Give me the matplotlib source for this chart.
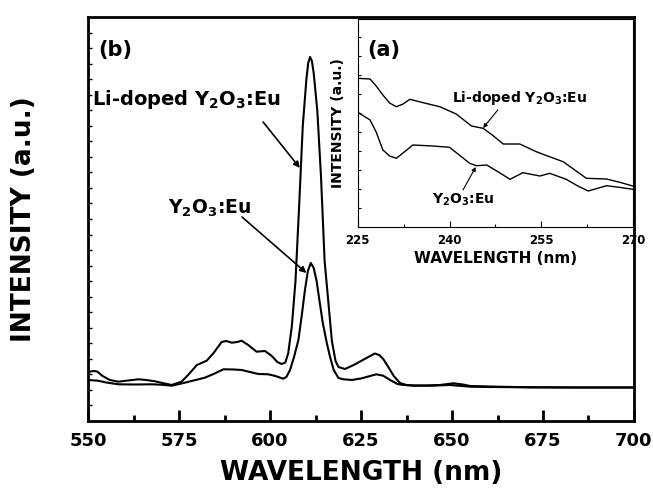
import matplotlib.pyplot as plt
import numpy as np

plt.rcParams['font.family'] = ['DejaVu Sans']
plt.rcParams['font.weight'] = 'bold'
plt.rcParams['mathtext.fontset'] = 'dejavusans'

# main spectrum (b), emission 550-700 nm, arbitrary intensity units
wl_li = [550, 551.5, 552.5, 554, 556, 558.3, 561, 563.8, 566, 568.4, 571, 573,
         575.7, 577.5, 579.9, 582.6, 584.5, 586.7, 588, 589.5, 591, 592.2, 594,
         596.3, 598.6, 600.5, 602, 603.2, 604.2, 605, 606, 607, 608, 609, 610,
         610.5, 611, 611.5, 612, 613, 614, 615, 616, 617, 618, 618.8, 620.6,
         623, 626, 628.8, 630, 631.1, 632.5, 634, 635.7, 637.5, 639.4, 643,
         646.7, 650.4, 653, 655, 660, 671.4, 685, 700]
int_li = [49, 50, 49.5, 45, 41, 39.3, 40.5, 41.7, 41, 39.7, 37.5, 36,
          39.3, 46, 56, 60.3, 68, 79, 80, 78.3, 79, 80.3, 76,
          69.3, 70, 65, 59, 57, 58.5, 67.7, 95, 140, 215, 295, 342,
          358, 364, 360, 348, 310, 245, 160, 120, 80, 60, 54, 52,
          56, 62, 67.5, 66, 62, 54, 45, 38, 36, 35.3, 35.5,
          36, 37.7, 36.5, 35, 34.5, 33.7, 33.5, 33.5]

wl_y = [550, 552.7, 555, 558.3, 563, 567.5, 570, 573, 576.6, 579, 582.1, 584.5,
        587.2, 590, 592.2, 594.5, 596.8, 599.5, 601.5, 603.6, 604.5, 605.5,
        606.6, 607.8, 608.7, 609.6, 610.4, 611.2, 612, 612.8, 613.6, 614.5,
        615.6, 616.5, 617.5, 618.8, 620.2, 622.5, 625, 628, 629.2, 631.1, 633,
        635, 636.6, 640, 643.9, 649.4, 655, 660, 671.4, 685, 700]
int_y = [41, 40.3, 38.5, 36.7, 36.5, 36.7, 36.3, 35.3, 38.3, 40.5, 43.3, 47,
         51.7, 51.5, 51, 49, 47, 46.7, 45, 42.3, 44, 51,
         64, 81, 105, 131, 150, 158, 153, 140, 120, 98,
         78, 64, 51, 43, 41.7, 41, 42.5, 45.5, 46.7, 45.3, 41,
         37, 36, 35.5, 35.3, 36, 34.3, 34, 33.7, 33.5, 33.5]

# inset (a), excitation 225-270 nm
wl_li_a = [225, 227, 228, 229.1, 230.2, 231.3, 232.4, 233.5, 235.7, 238.4,
           241.1, 243.6, 245.5, 247, 248.8, 251.5, 254.2, 256.5, 258.6, 260.5,
           262.4, 265.7, 268, 270]
int_li_a = [148.7, 148, 141, 132, 124, 120.3, 123, 127.7, 124.3, 120.3,
            113, 101, 98.7, 92, 83, 83, 75.3, 70, 65.3, 57,
            48.7, 48, 44.5, 41]

wl_y_a = [225, 227, 228, 229.1, 230.2, 231.3, 232.6, 234, 237.3, 240, 241.6,
          243.3, 244.4, 246.1, 248, 249.9, 252, 254.8, 256.4, 259.1, 261,
          262.7, 265.7, 268, 270]
int_y_a = [114.7, 107, 95, 77, 71, 68.7, 75, 82, 81, 79.7, 72,
           63.7, 61.3, 62, 55, 47.7, 54.3, 51, 53.7, 47.7, 41,
           36, 41.3, 39.5, 37.7]

fig = plt.figure(figsize=(6.53, 4.95), dpi=100)
ax = fig.add_axes([0.1348, 0.1495, 0.8361, 0.8162])

ax.plot(wl_li, int_li, color='black', lw=1.5)
ax.plot(wl_y, int_y, color='black', lw=1.5)

ax.set_xlim(550, 700)
ax.set_ylim(0, 404)
ax.set_xticks(np.arange(550, 701, 25))
ax.set_xticks(np.arange(550, 701, 12.5), minor=True)
ax.set_yticks(np.arange(1, 26) * 404 / 26)
ax.set_yticklabels([])
ax.tick_params(axis='x', which='major', direction='in', length=8, width=2,
               pad=8, labelsize=13)
ax.tick_params(axis='x', which='minor', direction='in', length=4.5, width=2)
ax.tick_params(axis='y', direction='in', length=3, width=1)
for s in ax.spines.values():
    s.set_linewidth(2)
ax.set_xlabel('WAVELENGTH (nm)', fontsize=19, fontweight='bold', labelpad=7)
ax.set_ylabel('INTENSITY (a.u.)', fontsize=19, fontweight='bold', labelpad=33)

ax.text(552.7, 371, '(b)', fontsize=15, fontweight='bold', va='center')
ax.text(551.1, 321, r'Li-doped Y$_\mathbf{2}$O$_\mathbf{3}$:Eu', fontsize=14,
        fontweight='bold', va='center')
ax.text(583.5, 213, r'Y$_\mathbf{2}$O$_\mathbf{3}$:Eu', fontsize=13.5,
        fontweight='bold', va='center', ha='center')
arrow = dict(arrowstyle='-|>', color='black', lw=1.2, mutation_scale=9,
             shrinkA=0, shrinkB=0)
ax.annotate('', xy=(608.2, 253), xytext=(598.1, 299), arrowprops=arrow)
ax.annotate('', xy=(610.0, 148), xytext=(592.3, 204), arrowprops=arrow)

ins = fig.add_axes([0.548, 0.5414, 0.4211, 0.4202])
ins.plot(wl_li_a, int_li_a, color='black', lw=1)
ins.plot(wl_y_a, int_y_a, color='black', lw=1)
ins.set_xlim(225, 270)
ins.set_ylim(0, 208)
ins.set_xticks([225, 240, 255, 270])
ins.set_xticks(np.arange(225, 271, 7.5), minor=True)
ins.set_yticks(np.arange(1, 11) * 19)
ins.set_yticklabels([])
ins.tick_params(axis='x', which='major', direction='in', length=4, width=0.8,
                pad=5, labelsize=8.5)
ins.tick_params(axis='x', which='minor', direction='in', length=2.5, width=0.8)
ins.tick_params(axis='y', direction='in', length=2.5, width=0.8)
for s in ins.spines.values():
    s.set_linewidth(0.8)
ins.set_xlabel('WAVELENGTH (nm)', fontsize=11, fontweight='bold', labelpad=3)
ins.set_ylabel('INTENSITY (a.u.)', fontsize=10, fontweight='bold', labelpad=6)

ins.text(226.5, 177, '(a)', fontsize=15, fontweight='bold', va='center')
ins.text(240.4, 129, r'Li-doped Y$_\mathbf{2}$O$_\mathbf{3}$:Eu', fontsize=10,
         fontweight='bold', va='center')
ins.text(237.1, 27, r'Y$_\mathbf{2}$O$_\mathbf{3}$:Eu', fontsize=10,
         fontweight='bold', va='center')
arrow_s = dict(arrowstyle='-|>', color='black', lw=0.8, mutation_scale=6,
               shrinkA=0, shrinkB=0)
ins.annotate('', xy=(245.5, 99), xytext=(247.9, 117), arrowprops=arrow_s)
ins.annotate('', xy=(244.3, 60), xytext=(242.2, 37), arrowprops=arrow_s)

fig.savefig('out.png', dpi=100)
